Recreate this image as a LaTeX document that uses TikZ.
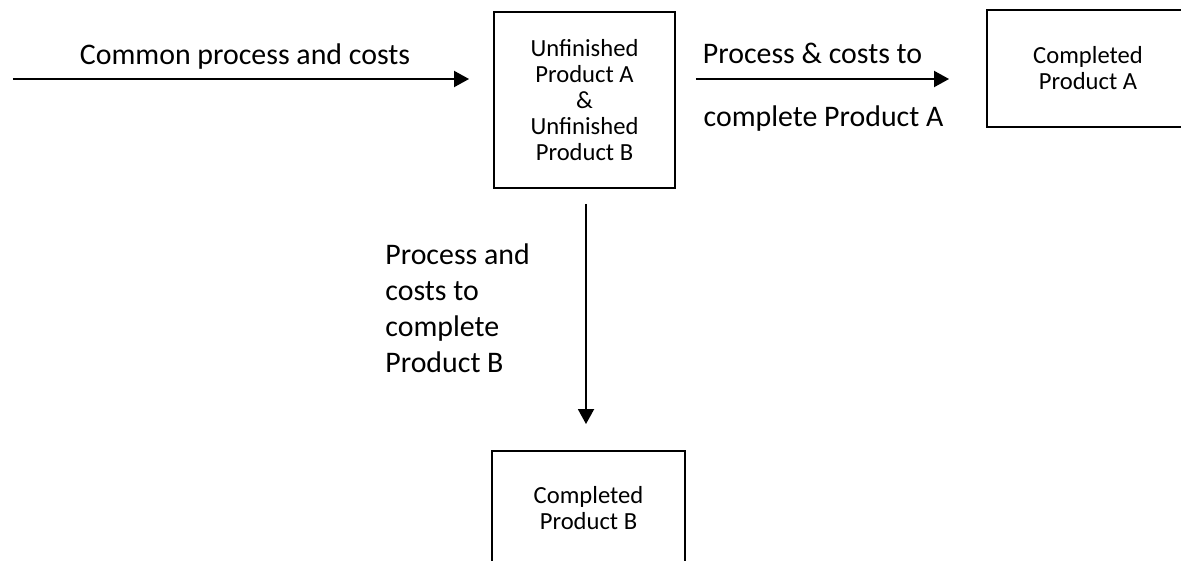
\documentclass[tikz,border=0pt]{standalone}
\usepackage{fontspec}
\setmainfont{Carlito}
\usetikzlibrary{arrows.meta}

\tikzset{
  prodbox/.style={draw,line width=1.1pt,align=center,inner sep=0pt,
    font=\fontsize{14}{14.8}\selectfont},
  lbl/.style={font=\fontsize{17}{20.5}\selectfont,inner sep=0pt},
  arr/.style={line width=1.1pt,-{Triangle[length=0.3cm,width=0.32cm]}}
}

\begin{document}
\begin{tikzpicture}
\useasboundingbox (0,0) rectangle (23.62,-11.2);

\node[prodbox,minimum width=3.62cm,minimum height=3.52cm] (unf) at (11.69,-2.0) {Unfinished\\Product A\\\&\\Unfinished\\Product B};
\node[prodbox,minimum width=4.04cm,minimum height=2.34cm] (compA) at (21.76,-1.37) {Completed\\Product A};
\node[prodbox,minimum width=3.86cm,minimum height=2.3cm] (compB) at (11.77,-10.17) {Completed\\Product B};

\coordinate (start) at (0.26,-1.58);

\node[lbl] (common) at (4.9,-1.14) {Common process and costs};
\node[lbl] (procA) at (16.25,-1.06) {Process \& costs to};
\node[lbl] (compltA) at (16.47,-2.38) {complete Product A};
\node[lbl,anchor=west,align=left] (procB) at (7.7,-6.16) {Process and\\costs to\\complete\\Product B};

\draw[arr,shorten >=0.48cm] (start) -- (start -| unf.west);
\draw[arr,shorten <=0.4cm,shorten >=0.74cm] (start -| unf.east) -- (start -| compA.west);
\draw[arr,shorten <=0.3cm,shorten >=0.52cm] ([xshift=0.03cm]unf.south) -- ([xshift=0.03cm]unf.south |- compB.north);
\end{tikzpicture}
\end{document}
